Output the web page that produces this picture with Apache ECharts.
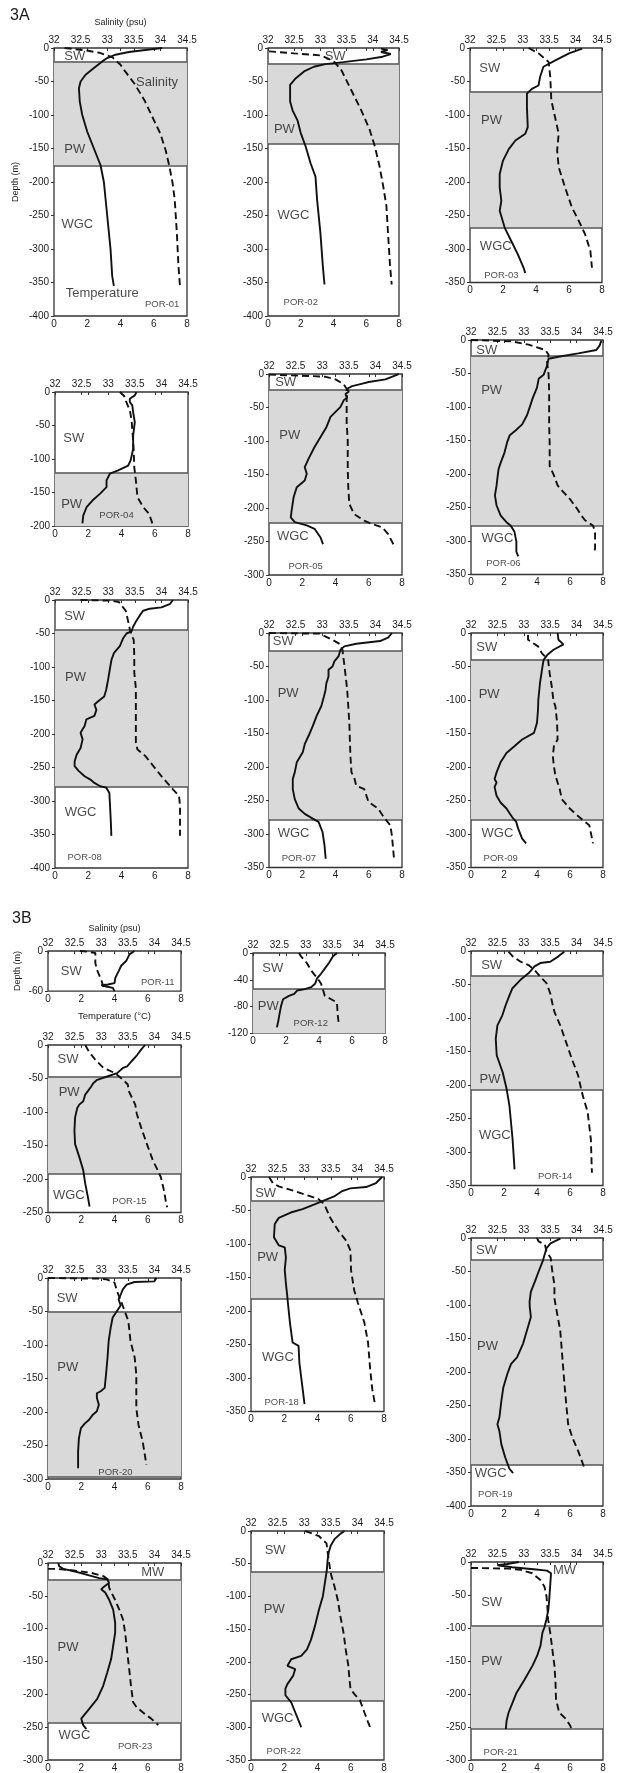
<!DOCTYPE html>
<html>
<head>
<meta charset="utf-8">
<script src="https://cdn.jsdelivr.net/npm/echarts@6/dist/echarts.min.js"></script>
<style>
html, body { margin: 0; padding: 0; background: #fff; }
#chart { width: 618px; height: 1773px; }
</style>
</head>
<body>
<div id="chart"></div>
<script>
// profiles as [depth (m), value]; temperature in degC, salinity in psu
const por01Temp = [[0,6.5],[-3,5.5],[-6,4.5],[-10,3.7],[-15,3.2],[-20,2.9],[-30,2.4],[-40,1.9],[-50,1.6],[-60,1.5],[-80,1.55],[-100,1.7],[-125,2.0],[-150,2.4],[-175,2.8],[-200,3.0],[-250,3.2],[-300,3.4],[-340,3.5],[-355,3.6]]
const por01Sal = [[0,32.2],[-3,32.55],[-7,32.85],[-14,33.1],[-25,33.25],[-33,33.32],[-53,33.51],[-78,33.7],[-103,33.85],[-128,34.0],[-153,34.1],[-177,34.17],[-202,34.23],[-227,34.27],[-277,34.31],[-326,34.34],[-358,34.37]]
const por02Temp = [[-1,6.9],[-3,7.3],[-6,6.9],[-9,7.5],[-13,7.0],[-17,6.0],[-21,4.6],[-24,3.5],[-28,2.8],[-35,2.2],[-45,1.7],[-55,1.35],[-80,1.35],[-93,1.5],[-108,1.8],[-127,2.0],[-147,2.3],[-172,2.6],[-192,2.9],[-227,3.0],[-276,3.2],[-326,3.35],[-353,3.45]]
const por02Sal = [[-5,32.02],[-8,32.5],[-11,33.0],[-16,33.15],[-21,33.27],[-33,33.4],[-63,33.59],[-93,33.78],[-122,33.94],[-147,34.04],[-177,34.13],[-207,34.2],[-236,34.26],[-276,34.29],[-326,34.33],[-353,34.36]]
const por03Temp = [[-1,6.8],[-8,6.0],[-18,5.2],[-28,4.45],[-43,4.25],[-56,4.15],[-61,3.75],[-68,3.45],[-88,3.45],[-118,3.5],[-128,3.35],[-138,2.75],[-151,2.35],[-168,2.0],[-188,1.8],[-208,1.8],[-228,1.9],[-243,1.8],[-268,2.1],[-288,2.5],[-308,2.9],[-328,3.25],[-336,3.35]]
const por03Sal = [[0,33.11],[-8,33.3],[-21,33.49],[-43,33.52],[-78,33.54],[-103,33.61],[-128,33.68],[-153,33.65],[-178,33.68],[-208,33.8],[-238,33.93],[-258,34.06],[-278,34.18],[-303,34.28],[-328,34.31]]
const por04Temp = [[0,4.9],[-5,4.8],[-10,4.5],[-15,4.5],[-20,4.65],[-30,4.7],[-45,4.8],[-65,4.7],[-85,4.7],[-102,4.55],[-110,4.4],[-117,3.8],[-122,3.3],[-132,3.1],[-142,3.1],[-152,2.7],[-162,2.25],[-172,1.9],[-184,1.7],[-196,1.65]]
const por04Sal = [[0,33.22],[-6,33.3],[-13,33.33],[-28,33.41],[-43,33.44],[-63,33.46],[-88,33.48],[-112,33.49],[-132,33.52],[-157,33.55],[-172,33.66],[-182,33.77],[-196,33.83]]
const por05Temp = [[0,7.8],[-3,7.5],[-8,7.0],[-12,6.0],[-15,5.5],[-18,5.0],[-22,4.7],[-26,4.8],[-30,4.6],[-35,4.7],[-39,4.5],[-49,4.3],[-64,3.7],[-79,3.46],[-94,3.1],[-109,2.74],[-126,2.39],[-139,2.15],[-149,2.27],[-159,2.15],[-169,1.67],[-184,1.48],[-204,1.36],[-214,1.31],[-221,1.55],[-226,2.27],[-231,2.74],[-244,3.1],[-254,3.25]]
const por05Sal = [[-1,32.0],[-2,32.4],[-3,32.8],[-4,33.05],[-8,33.25],[-15,33.4],[-22,33.46],[-39,33.46],[-74,33.46],[-99,33.48],[-139,33.48],[-169,33.49],[-194,33.51],[-209,33.6],[-219,33.79],[-224,33.94],[-229,34.13],[-239,34.24],[-256,34.35]]
const por06Temp = [[-1,7.9],[-8,7.8],[-15,7.6],[-20,6.5],[-25,5.3],[-28,4.7],[-39,4.6],[-52,4.4],[-58,4.1],[-71,4.0],[-86,3.75],[-101,3.55],[-112,3.4],[-126,3.1],[-135,2.7],[-142,2.35],[-152,2.2],[-168,2.03],[-183,1.8],[-193,1.67],[-202,1.62],[-217,1.55],[-232,1.45],[-247,1.55],[-262,1.8],[-272,2.15],[-277,2.4],[-286,2.63],[-301,2.75],[-316,2.75],[-323,2.86]]
const por06Sal = [[0,32.0],[-1,32.4],[-2,32.77],[-7,33.09],[-15,33.41],[-22,33.47],[-32,33.44],[-52,33.47],[-76,33.48],[-126,33.48],[-155,33.49],[-188,33.49],[-202,33.57],[-217,33.64],[-227,33.75],[-237,33.87],[-252,34.01],[-262,34.09],[-269,34.16],[-277,34.31],[-286,34.35],[-311,34.35],[-318,34.33]]
const por08Temp = [[0,7.1],[-6,6.9],[-11,6.4],[-13,5.7],[-16,5.3],[-23,5.1],[-33,4.85],[-40,4.7],[-47,4.6],[-50,4.3],[-57,4.1],[-69,3.9],[-79,3.55],[-89,3.4],[-103,3.3],[-118,3.2],[-134,3.08],[-144,2.96],[-151,2.6],[-156,2.37],[-164,2.49],[-173,2.37],[-178,1.89],[-188,1.78],[-193,1.66],[-198,1.54],[-208,1.66],[-221,1.54],[-231,1.3],[-241,1.18],[-248,1.18],[-255,1.42],[-263,1.78],[-268,2.13],[-273,2.37],[-278,2.72],[-280,3.08],[-288,3.27],[-307,3.31],[-332,3.36],[-352,3.39]]
const por08Sal = [[0,32.48],[-1,33.05],[-3,33.2],[-16,33.33],[-30,33.37],[-45,33.41],[-60,33.48],[-84,33.49],[-108,33.49],[-132,33.52],[-183,33.52],[-213,33.52],[-223,33.55],[-233,33.7],[-248,33.85],[-263,34.0],[-273,34.11],[-283,34.22],[-292,34.33],[-307,34.35],[-352,34.35]]
const por07Temp = [[0,7.4],[-7,7.16],[-12,6.68],[-16,5.25],[-20,4.53],[-25,4.3],[-35,4.18],[-42,3.94],[-50,3.82],[-55,3.58],[-65,3.58],[-75,3.45],[-85,3.4],[-95,3.3],[-109,3.15],[-124,2.86],[-139,2.63],[-153,2.39],[-166,2.15],[-178,2.03],[-193,1.67],[-208,1.55],[-218,1.43],[-233,1.43],[-248,1.55],[-262,1.79],[-270,2.15],[-277,2.63],[-282,2.98],[-297,3.22],[-317,3.34],[-337,3.41]]
const por07Sal = [[0,32.0],[-1,32.95],[-10,33.19],[-17,33.34],[-25,33.38],[-50,33.42],[-85,33.47],[-134,33.51],[-183,33.53],[-208,33.55],[-215,33.6],[-228,33.64],[-233,33.79],[-252,33.87],[-262,34.05],[-275,34.16],[-287,34.28],[-302,34.31],[-337,34.35]]
const por09Temp = [[0,5.25],[-10,5.3],[-17,5.6],[-25,5.0],[-32,4.65],[-40,4.4],[-55,4.3],[-75,4.18],[-100,4.08],[-115,4.06],[-134,4.0],[-149,3.82],[-159,3.1],[-169,2.63],[-179,2.15],[-193,1.79],[-208,1.55],[-218,1.43],[-223,1.55],[-230,1.43],[-243,1.55],[-253,1.79],[-262,2.15],[-275,2.5],[-282,2.74],[-292,2.86],[-307,3.1],[-314,3.34]]
const por09Sal = [[-3,33.08],[-10,33.08],[-20,33.27],[-30,33.34],[-40,33.46],[-60,33.49],[-80,33.53],[-100,33.56],[-110,33.6],[-134,33.63],[-159,33.64],[-169,33.57],[-184,33.55],[-199,33.57],[-213,33.6],[-233,33.68],[-248,33.72],[-262,33.87],[-272,34.01],[-280,34.13],[-287,34.24],[-302,34.28],[-314,34.31]]
const por11Temp = [[0,5.2],[-5,4.9],[-15,4.7],[-22,4.4],[-30,4.25],[-40,4.05],[-48,4.0],[-50,3.6],[-51,3.2],[-53,3.5],[-55,3.9],[-60,4.0]]
const por11Sal = [[0,32.6],[-1,32.74],[-3,32.89],[-18,32.89],[-28,32.92],[-43,33.0],[-53,33.04],[-60,33.05]]
const por12Temp = [[0,5.09],[-5,4.85],[-15,4.6],[-23,4.36],[-31,4.12],[-38,3.88],[-46,3.76],[-51,3.52],[-54,3.15],[-56,2.67],[-61,2.5],[-64,2.18],[-69,1.82],[-79,1.7],[-92,1.6],[-102,1.53],[-111,1.45]]
const por12Sal = [[0,32.87],[-5,32.91],[-15,33.02],[-26,33.1],[-33,33.17],[-41,33.25],[-46,33.29],[-56,33.33],[-64,33.36],[-69,33.48],[-74,33.59],[-87,33.6],[-97,33.61],[-108,33.63]]
const por14Temp = [[-1,5.65],[-8,5.3],[-16,4.8],[-18,4.2],[-23,3.85],[-33,3.5],[-43,3.0],[-56,2.5],[-68,2.3],[-81,2.1],[-96,1.9],[-111,1.6],[-131,1.5],[-156,1.56],[-181,1.92],[-206,2.16],[-231,2.33],[-281,2.52],[-326,2.64]]
const por14Sal = [[-1,32.71],[-8,32.79],[-16,32.94],[-21,33.09],[-28,33.2],[-38,33.31],[-48,33.43],[-63,33.5],[-78,33.54],[-91,33.58],[-111,33.69],[-136,33.8],[-161,33.91],[-186,34.03],[-211,34.1],[-241,34.21],[-281,34.27],[-331,34.29]]
const por15Temp = [[0,5.84],[-7,5.6],[-15,5.36],[-25,5.0],[-32,4.76],[-34,4.52],[-42,4.16],[-47,3.56],[-52,2.96],[-57,2.72],[-62,2.6],[-74,2.24],[-84,2.12],[-89,1.88],[-94,1.76],[-108,1.63],[-128,1.59],[-148,1.63],[-167,1.88],[-187,2.12],[-207,2.24],[-227,2.4],[-241,2.5]]
const por15Sal = [[0,32.7],[-10,32.77],[-22,32.89],[-34,33.04],[-42,33.26],[-52,33.41],[-59,33.5],[-69,33.52],[-89,33.64],[-103,33.67],[-123,33.75],[-148,33.86],[-172,33.97],[-185,34.05],[-197,34.12],[-217,34.18],[-236,34.22],[-242,34.24]]
const por18Temp = [[0,7.88],[-9,7.52],[-15,6.92],[-17,5.97],[-21,5.49],[-29,5.0],[-36,4.3],[-41,3.82],[-48,3.1],[-53,2.39],[-61,1.67],[-70,1.43],[-90,1.38],[-102,1.67],[-105,2.03],[-120,2.1],[-139,2.03],[-159,2.1],[-170,2.15],[-183,2.2],[-217,2.34],[-247,2.5],[-252,2.86],[-277,2.91],[-307,3.06],[-339,3.22]]
const por18Sal = [[0,32.34],[-9,32.41],[-14,32.52],[-21,32.82],[-29,33.12],[-33,33.27],[-41,33.38],[-61,33.49],[-80,33.64],[-95,33.79],[-110,33.87],[-139,33.88],[-169,33.94],[-188,34.01],[-217,34.13],[-247,34.2],[-287,34.24],[-317,34.28],[-339,34.33]]
const por19Temp = [[-1,5.42],[-5,5.06],[-8,4.82],[-15,4.58],[-25,4.46],[-35,4.34],[-50,4.1],[-65,3.87],[-80,3.63],[-95,3.55],[-103,3.56],[-118,3.63],[-138,3.39],[-158,3.15],[-178,2.79],[-188,2.43],[-203,2.2],[-223,1.96],[-243,1.84],[-268,1.72],[-278,1.6],[-288,1.72],[-308,1.84],[-328,2.08],[-344,2.32],[-351,2.55]]
const por19Sal = [[0,33.25],[-5,33.28],[-10,33.4],[-20,33.43],[-30,33.51],[-50,33.54],[-70,33.58],[-90,33.58],[-108,33.62],[-138,33.69],[-178,33.73],[-218,33.77],[-253,33.81],[-278,33.84],[-298,33.92],[-318,34.03],[-333,34.1],[-346,34.16]]
const por20Temp = [[0,6.52],[-5,6.4],[-6,5.2],[-10,4.73],[-17,4.5],[-25,4.37],[-32,4.25],[-41,4.37],[-50,4.13],[-59,3.89],[-74,3.77],[-94,3.65],[-119,3.58],[-144,3.49],[-164,3.41],[-169,3.17],[-172,2.94],[-179,2.94],[-189,3.06],[-199,2.94],[-204,2.7],[-212,2.46],[-217,2.22],[-224,1.98],[-239,1.86],[-259,1.81],[-284,1.81]]
const por20Sal = [[0,32.0],[-1,32.95],[-2,33.1],[-7,33.25],[-20,33.3],[-34,33.37],[-49,33.44],[-64,33.51],[-94,33.55],[-119,33.63],[-144,33.66],[-194,33.66],[-219,33.7],[-244,33.78],[-279,33.85]]
const por23Temp = [[0,0.62],[-5,0.67],[-9,0.91],[-13,1.63],[-18,2.36],[-23,3.08],[-25,3.56],[-30,3.68],[-36,3.37],[-40,3.2],[-45,3.44],[-56,3.68],[-71,3.92],[-91,4.04],[-106,4.04],[-126,3.92],[-146,3.8],[-167,3.56],[-187,3.32],[-207,2.96],[-222,2.48],[-237,2.0],[-247,2.12],[-253,2.31]]
const por23Sal = [[-9,32.0],[-9,32.17],[-11,32.44],[-15,32.81],[-20,33.04],[-25,33.13],[-38,33.15],[-56,33.26],[-71,33.34],[-86,33.41],[-106,33.45],[-136,33.49],[-157,33.52],[-187,33.56],[-212,33.6],[-220,33.67],[-230,33.82],[-237,33.94],[-245,34.05],[-247,34.07]]
const por22Temp = [[0,5.63],[-4,5.39],[-12,5.04],[-22,4.8],[-32,4.68],[-44,4.61],[-60,4.56],[-80,4.44],[-100,4.32],[-120,4.09],[-145,3.85],[-166,3.61],[-181,3.37],[-191,3.02],[-196,2.42],[-206,2.19],[-211,2.66],[-221,2.54],[-234,2.19],[-241,2.07],[-251,2.07],[-262,2.42],[-277,2.66],[-292,2.9],[-300,3.02]]
const por22Sal = [[0,33.02],[-2,33.09],[-8,33.28],[-19,33.42],[-32,33.44],[-44,33.46],[-65,33.5],[-85,33.57],[-105,33.63],[-130,33.68],[-156,33.74],[-181,33.78],[-206,33.83],[-226,33.85],[-241,33.87],[-249,33.94],[-259,34.05],[-277,34.13],[-292,34.2],[-302,34.25]]
const por21Temp = [[0,2.9],[-3,2.2],[-5,1.6],[-8,2.5],[-11,3.8],[-13,4.6],[-17,4.85],[-32,4.81],[-57,4.74],[-72,4.69],[-87,4.57],[-99,4.45],[-107,4.33],[-127,4.21],[-142,4.01],[-157,3.73],[-178,3.25],[-198,2.76],[-213,2.52],[-228,2.28],[-240,2.16],[-253,2.11]]
const por21Sal = [[-9,32.0],[-10,32.71],[-12,32.94],[-17,33.16],[-27,33.31],[-37,33.39],[-52,33.43],[-72,33.45],[-87,33.46],[-107,33.5],[-132,33.54],[-157,33.58],[-182,33.6],[-208,33.61],[-228,33.67],[-238,33.8],[-248,33.88],[-253,33.9]]

// axis ranges and tick steps
const tempRange = [0, 8, 2]
const salRange = [32, 34.5, 0.5]

// layout: id, temp, sal, shaded band [top, bottom], max depth, depth step, frame [left, top, width]
const PX_PER_M = 0.67
const panels = [
  ['POR-01', por01Temp, por01Sal, [-20, -175], 400, 50, [54, 48, 133]],
  ['POR-02', por02Temp, por02Sal, [-23, -143], 400, 50, [268, 48, 131]],
  ['POR-03', por03Temp, por03Sal, [-65, -268], 350, 50, [470, 48, 132]],
  ['POR-04', por04Temp, por04Sal, [-120, -200], 200, 50, [55, 392, 133]],
  ['POR-05', por05Temp, por05Sal, [-23, -222], 300, 50, [269, 374, 133]],
  ['POR-06', por06Temp, por06Sal, [-23, -277], 350, 50, [471, 340, 132]],
  ['POR-08', por08Temp, por08Sal, [-45, -279], 400, 50, [55, 600, 133]],
  ['POR-07', por07Temp, por07Sal, [-27, -278], 350, 50, [269, 633, 133]],
  ['POR-09', por09Temp, por09Sal, [-40, -278], 350, 50, [471, 633, 132]],
  ['POR-11', por11Temp, por11Sal, null, 60, 60, [48, 951, 133]],
  ['POR-12', por12Temp, por12Sal, [-53, -120], 120, 40, [253, 953, 132]],
  ['POR-14', por14Temp, por14Sal, [-37, -207], 350, 50, [471, 951, 132]],
  ['POR-15', por15Temp, por15Sal, [-47, -192], 250, 50, [48, 1045, 133]],
  ['POR-18', por18Temp, por18Sal, [-35, -182], 350, 50, [251, 1177, 133]],
  ['POR-19', por19Temp, por19Sal, [-33, -339], 400, 50, [471, 1238, 132]],
  ['POR-20', por20Temp, por20Sal, [-50, -297], 300, 50, [48, 1278, 133]],
  ['POR-23', por23Temp, por23Sal, [-25, -243], 300, 50, [48, 1563, 133]],
  ['POR-22', por22Temp, por22Sal, [-62, -260], 350, 50, [251, 1531, 133]],
  ['POR-21', por21Temp, por21Sal, [-96, -252], 300, 50, [471, 1562, 132]]
]

// water mass labels, placed in temperature / depth units
const notes = {
  'POR-01': [['SW', 1.25, -13], ['Salinity', 6.2, -51], ['PW', 1.25, -152], ['WGC', 1.4, -263], ['Temperature', 2.9, -367], ['POR-01', 6.5, -383]],
  'POR-02': [['SW', 4.1, -13], ['PW', 1.0, -122], ['WGC', 1.55, -250], ['POR-02', 2.0, -380]],
  'POR-03': [['SW', 1.2, -31], ['PW', 1.3, -108], ['WGC', 1.56, -296], ['POR-03', 1.9, -340]],
  'POR-04': [['SW', 1.13, -70], ['PW', 1.0, -168], ['POR-04', 3.7, -184]],
  'POR-05': [['SW', 1.0, -12], ['PW', 1.25, -92], ['WGC', 1.43, -243], ['POR-05', 2.2, -287]],
  'POR-06': [['SW', 0.95, -15], ['PW', 1.25, -76], ['WGC', 1.6, -296], ['POR-06', 1.96, -333]],
  'POR-08': [['SW', 1.18, -25], ['PW', 1.23, -116], ['WGC', 1.54, -317], ['POR-08', 1.78, -384]],
  'POR-07': [['SW', 0.86, -12], ['PW', 1.15, -90], ['WGC', 1.48, -299], ['POR-07', 1.8, -337]],
  'POR-09': [['SW', 0.95, -22], ['PW', 1.1, -92], ['WGC', 1.6, -299], ['POR-09', 1.8, -336]],
  'POR-11': [['SW', 1.4, -30], ['POR-11', 6.6, -47]],
  'POR-12': [['SW', 1.2, -23], ['PW', 0.92, -79], ['POR-12', 3.5, -105]],
  'POR-14': [['SW', 1.25, -21], ['PW', 1.15, -191], ['WGC', 1.44, -276], ['POR-14', 5.1, -336]],
  'POR-15': [['SW', 1.2, -22], ['PW', 1.27, -71], ['WGC', 1.25, -224], ['POR-15', 4.9, -234]],
  'POR-18': [['SW', 0.88, -24], ['PW', 1.0, -120], ['WGC', 1.62, -269], ['POR-18', 1.84, -336]],
  'POR-19': [['SW', 0.94, -18], ['PW', 1.0, -162], ['WGC', 1.19, -352], ['POR-19', 1.47, -383]],
  'POR-20': [['SW', 1.15, -30], ['PW', 1.19, -134], ['POR-20', 4.06, -290]],
  'POR-23': [['MW', 6.3, -14], ['PW', 1.2, -129], ['WGC', 1.59, -263], ['POR-23', 5.24, -280]],
  'POR-22': [['SW', 1.45, -29], ['PW', 1.4, -120], ['WGC', 1.6, -287], ['POR-22', 1.97, -337]],
  'POR-21': [['MW', 5.67, -13], ['SW', 1.25, -62], ['PW', 1.25, -150], ['POR-21', 1.8, -288]]
}

const FONT = "'Liberation Sans', Arial, sans-serif"
const INK = '#1a1a1a'

const grid = []
const xAxis = []
const yAxis = []
const series = []

panels.forEach(([id, temp, sal, band, depth, step, [left, top, width]], i) => {
  const first = id === 'POR-01' || id === 'POR-11'
  grid.push({
    left, top, width, height: depth * PX_PER_M,
    show: true, borderColor: '#333', borderWidth: 1.3, backgroundColor: 'transparent'
  })
  // bottom axis: temperature
  xAxis.push({
    gridIndex: i, type: 'value', position: 'bottom',
    min: tempRange[0], max: tempRange[1], interval: tempRange[2],
    axisLine: { show: false },
    axisTick: { show: true, length: 3, lineStyle: { color: '#333' } },
    axisLabel: { fontSize: 10, color: INK, fontFamily: FONT, margin: 3 },
    splitLine: { show: false },
    name: id === 'POR-11' ? 'Temperature (°C)' : '',
    nameLocation: 'middle', nameGap: 20,
    nameTextStyle: { fontSize: 9.5, color: INK, fontFamily: FONT }
  })
  // top axis: salinity
  xAxis.push({
    gridIndex: i, type: 'value', position: 'top',
    min: salRange[0], max: salRange[1], interval: salRange[2],
    axisLine: { show: false },
    axisTick: { show: true, inside: true, length: 3, lineStyle: { color: '#333' } },
    axisLabel: { fontSize: 10, color: INK, fontFamily: FONT, margin: 3 },
    splitLine: { show: false },
    name: first ? 'Salinity (psu)' : '',
    nameLocation: 'middle', nameGap: id === 'POR-01' ? 21 : 18,
    nameTextStyle: { fontSize: 9, color: INK, fontFamily: FONT }
  })
  yAxis.push({
    gridIndex: i, type: 'value',
    min: -depth, max: 0, interval: step,
    axisLine: { show: false },
    axisTick: { show: true, length: 3, lineStyle: { color: '#333' } },
    axisLabel: { fontSize: 10, color: INK, fontFamily: FONT, margin: 5 },
    splitLine: { show: false },
    name: first ? 'Depth (m)' : '',
    nameLocation: 'middle', nameGap: id === 'POR-01' ? 34 : 26,
    nameTextStyle: { fontSize: 9, color: INK, fontFamily: FONT }
  })

  const bounds = band ? band.filter(v => v > -depth && v < 0) : []
  series.push({
    type: 'line', xAxisIndex: 2 * i, yAxisIndex: i,
    data: temp.map(([d, v]) => [v, d]),
    symbol: 'none', silent: true, z: 5,
    lineStyle: { color: '#111', width: 1.9 },
    markArea: band ? {
      silent: true,
      itemStyle: { color: '#d9d9d9', opacity: 1, borderWidth: 0 },
      data: [[{ yAxis: band[0] }, { yAxis: band[1] }]]
    } : undefined,
    markLine: bounds.length ? {
      silent: true, symbol: 'none', label: { show: false },
      lineStyle: { color: '#555', width: 1.5, type: 'solid' },
      data: bounds.map(v => ({ yAxis: v }))
    } : undefined
  })
  series.push({
    type: 'line', xAxisIndex: 2 * i + 1, yAxisIndex: i,
    data: sal.map(([d, v]) => [v, d]),
    symbol: 'none', silent: true, z: 5,
    lineStyle: { color: '#111', width: 1.9, type: [7, 4] }
  })
  series.push({
    type: 'scatter', xAxisIndex: 2 * i, yAxisIndex: i,
    silent: true, z: 6, symbolSize: 1,
    itemStyle: { color: 'transparent' },
    data: notes[id].map(([name, t, d]) => ({
      name, value: [t, d],
      label: { fontSize: name.startsWith('POR') ? 9.5 : 13 }
    })),
    label: { show: true, position: 'inside', formatter: '{b}', color: INK, fontFamily: FONT }
  })
})

const chart = echarts.init(document.getElementById('chart'), null, { renderer: 'canvas' })
chart.setOption({
  animation: false,
  backgroundColor: '#fff',
  textStyle: { fontFamily: FONT },
  graphic: [
    { type: 'text', left: 10, top: 8, style: { text: '3A', fontSize: 16, fill: INK, fontFamily: FONT } },
    { type: 'text', left: 12, top: 911, style: { text: '3B', fontSize: 16, fill: INK, fontFamily: FONT } }
  ],
  grid, xAxis, yAxis, series
})
</script>
</body>
</html>
